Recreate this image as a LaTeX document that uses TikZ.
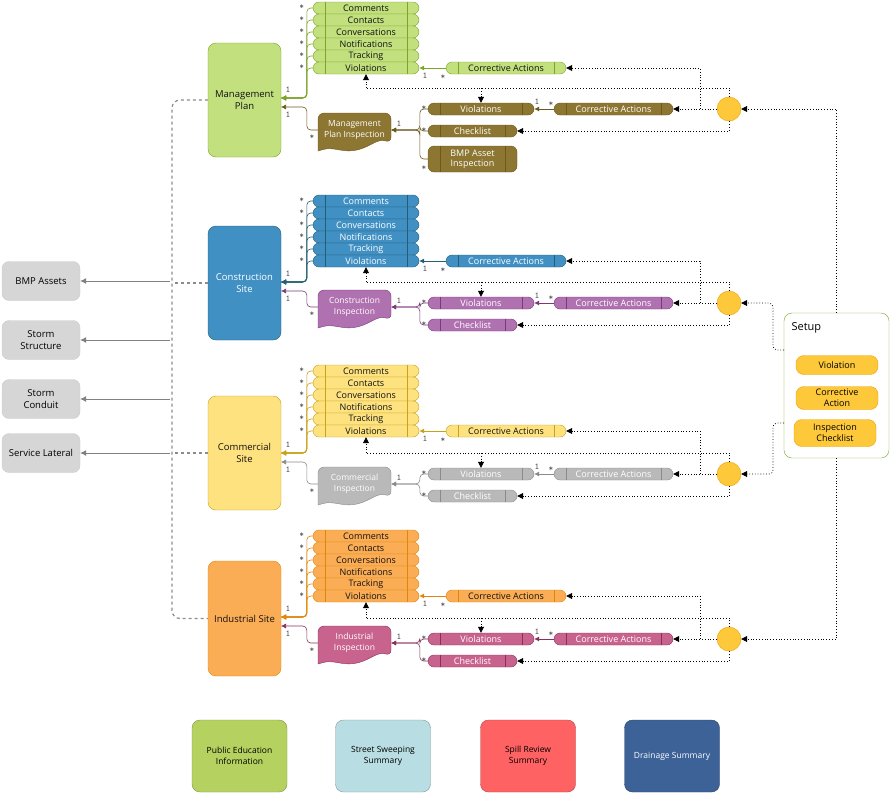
\documentclass[tikz,border=0pt]{standalone}
\usepackage{fontspec}
\setmainfont{Open Sans}
\usetikzlibrary{positioning,arrows.meta,calc}
\definecolor{mpfill}{HTML}{C2E07E}\definecolor{mpline}{HTML}{7BA428}\definecolor{mptext}{HTML}{111111}
\definecolor{mpifill}{HTML}{8C7632}\definecolor{mpiline}{HTML}{6B5A1C}\definecolor{mpitext}{HTML}{FFFFFF}
\definecolor{csfill}{HTML}{4090C4}\definecolor{csline}{HTML}{245E72}\definecolor{cstext}{HTML}{FFFFFF}
\definecolor{csifill}{HTML}{B071B0}\definecolor{csiline}{HTML}{7A3A7A}\definecolor{csitext}{HTML}{FFFFFF}
\definecolor{cmfill}{HTML}{FDE27F}\definecolor{cmline}{HTML}{C9A21A}\definecolor{cmtext}{HTML}{111111}
\definecolor{cmifill}{HTML}{B9B9B9}\definecolor{cmiline}{HTML}{8A8A8A}\definecolor{cmitext}{HTML}{FFFFFF}
\definecolor{infill}{HTML}{FBAD55}\definecolor{inline}{HTML}{E0860A}\definecolor{intext}{HTML}{111111}
\definecolor{inifill}{HTML}{C8638E}\definecolor{iniline}{HTML}{8A2F5A}\definecolor{initext}{HTML}{FFFFFF}
\definecolor{dotfill}{HTML}{FDC83A}\definecolor{dotline}{HTML}{F0A000}
\definecolor{edufill}{HTML}{B5D160}\definecolor{sweepfill}{HTML}{B8DDE2}
\definecolor{spillfill}{HTML}{FF6262}\definecolor{drainfill}{HTML}{3C6298}

\tikzset{
  pill/.style={draw=#1line, fill=#1fill, text=#1text, rounded corners=6pt, minimum height=12pt,
    inner sep=0pt, font=\fontsize{9}{10}\selectfont,
    path picture={\draw[#1line] ([xshift=12pt]path picture bounding box.north west) -- ([xshift=12pt]path picture bounding box.south west)
      ([xshift=-12pt]path picture bounding box.north east) -- ([xshift=-12pt]path picture bounding box.south east);}},
  site/.style={draw=#1line, fill=#1fill, text=#1text, rounded corners=8pt, minimum width=73pt,
    align=center, font=\fontsize{9.5}{12}\selectfont},
  link/.style={draw=#1line, semithick, rounded corners=4pt, -{Latex[length=5pt,width=5pt]}},
  mult/.style={font=\ttfamily\fontsize{9}{9}\selectfont, text=black!70, inner sep=0pt},
  dotarrow/.style={dotted, thick, -{Triangle[length=6pt,width=6pt]}},
  asset/.style={draw=black!20, fill=black!16, rounded corners=7pt, minimum width=78pt, minimum height=39pt,
    align=center, font=\fontsize{9.5}{12}\selectfont},
  setupitem/.style={draw=dotline, fill=dotfill, rounded corners=8pt, minimum width=82pt, align=center,
    inner sep=1pt, font=\fontsize{9}{11}\selectfont},
  summary/.style={draw=#1!70!black, fill=#1, rounded corners=8pt, minimum width=95pt, minimum height=72pt,
    align=center, font=\fontsize{8.5}{11}\selectfont},
}

% tag, list top, box top, box bottom, box label, inspection label, inspection y, violations y, arrow y
\newcommand{\sitepart}[9]{%
  \node[site=#1, minimum height={#4-#3}] (#1box) at (244.5,{(#3+#4)/2}) {#5};
  \coordinate (#1in1) at (281,#9);
  \coordinate (#1in2) at (281,#9+9);
  \foreach \t [count=\i] in {Comments,Contacts,Conversations,Notifications,Tracking,Violations}{
    \node[pill=#1, minimum width=106pt] (#1r\i) at (366,{#2+12*(\i-1)}) {\t};
    \draw[link=#1] (#1r\i.west) -- ++(-6,0) |- (#1in1);
    \node[mult] at ([xshift=-11pt,yshift=1pt]#1r\i.west) {*};
  }
  \node[mult] at (288,#9-8) {1};
  \node[pill=#1, minimum width=120pt] (#1ca) at (506,{#2+60}) {Corrective Actions};
  \draw[link=#1] (#1ca) -- (#1r6);
  \node[mult] at (425,#2+68) {1};
  \node[mult] at (443,#2+69) {*};
  % inspection
  \fill[#1ifill, draw=#1iline] (318,#7-18) [rounded corners=6pt] -- (391,#7-18) -- (391,#7+12)
    [sharp corners] .. controls (375,#7+6) and (365,#7+24) .. (340,#7+19) .. controls (328,#7+17) .. (318,#7+20)
    [rounded corners=6pt] -- cycle;
  \node[text=#1itext, align=center, font=\fontsize{8.5}{11}\selectfont, minimum width=73pt,
    minimum height=30pt, inner sep=0pt] (#1insp) at (354.5,#7-1) {#6};
  \draw[link=#1i] (#1insp.west) -- ++(-11,0) |- (#1in2);
  \node[mult] at (288,#9+17) {1};
  \node[mult] at (312,#7+6) {*};
  \node[pill=#1i, minimum width=106pt] (#1v) at (481,#8) {Violations};
  \node[pill=#1i, minimum width=89pt] (#1c) at (472.5,#8+22) {Checklist};
  \draw[link=#1i] (#1v.west) -- ++(-8,0) |- (#1insp.east);
  \draw[link=#1i] (#1c.west) -- ++(-8,0) |- (#1insp.east);
  \node[mult] at (399,#7-7) {1};
  \node[mult] at (424,#8-1) {*};
  \node[mult] at (424,#8+21) {*};
  \node[pill=#1i, minimum width=119pt] (#1cb) at (613.5,#8) {Corrective Actions};
  \draw[link=#1i] (#1cb) -- (#1v);
  \node[mult] at (537,#8-7) {1};
  \node[mult] at (551,#8-5) {*};
  % checks
  \node[circle, draw=dotline, fill=dotfill, minimum size=24pt] (#1dot) at (729,#8) {};
  \coordinate (#1top) at (366,#8-21);
  \coordinate (#1mid) at (481,#8-21);
  \coordinate (#1join) at (700,#8);
  \draw[dotarrow] (#1dot.west) -- (#1cb.east);
  \draw[dotarrow] (#1dot.south) |- (#1c.east);
  \draw[dotted, thick] (#1dot.north) |- (#1top);
  \draw[dotarrow] (#1top) -- (#1r6.south);
  \draw[dotarrow] (#1mid) -- (#1v.north);
  \draw[dotarrow] (#1join) |- (#1ca.east);
}

\begin{document}
\begin{tikzpicture}[x=1pt, y=-1pt]
  \useasboundingbox (0,0) rectangle (892,796);

  \sitepart{mp}{8}{43}{157}{Management\\Plan}{Management\\Plan Inspection}{131}{109}{98}
  \sitepart{cs}{201}{226}{340}{Construction\\Site}{Construction\\Inspection}{308}{303}{282}
  \sitepart{cm}{371}{396}{510}{Commercial\\Site}{Commercial\\Inspection}{485}{474}{453}
  \sitepart{in}{536}{561}{676}{Industrial Site}{Industrial\\Inspection}{644}{639}{617}

  \node[pill=mpi, minimum width=89pt, minimum height=26pt, align=center] (mpbmp) at (472.5,159)
    {BMP Asset\\Inspection};
  \draw[link=mpi] (mpbmp.west) -- ++(-8,0) |- (mpinsp.east);
  \node[mult] at (424,168) {*};

  % assets
  \node[asset] (bmp) at (41,281) {BMP Assets};
  \node[asset] (struct) at (41,340) {Storm\\Structure};
  \node[asset] (conduit) at (41,399) {Storm\\Conduit};
  \node[asset] (lateral) at (41,453) {Service Lateral};
  \draw[dashed, very thick, black!45, rounded corners=8pt] (mpbox.west) -- (172,100) |- (inbox.west);
  \draw[dashed, very thick, black!45] (csbox.west) -- (172,283);
  \draw[dashed, very thick, black!45] (cmbox.west) -- (172,453);
  \foreach \a/\y in {bmp/281,struct/340,conduit/399,lateral/453}{
    \coordinate (t\a) at (170,\y);
    \draw[thick, black!50, -{Latex[length=6pt,width=6pt]}] (t\a) -- (\a.east);
  }

  % setup
  \node[draw=mpline, fill=white, rounded corners=8pt, minimum width=105pt, minimum height=145pt] (setup) at (836.5,385.5) {};
  \node[font=\fontsize{11}{13}\selectfont, anchor=west] (setuptitle) at (788,328) {Setup};
  \node[setupitem, minimum height=19pt] (sviol) at (837,365) {Violation};
  \node[setupitem, minimum height=23pt] (sca) at (837,398) {Corrective\\Action};
  \node[setupitem, minimum height=27pt] (schk) at (835,433) {Inspection\\Checklist};
  \coordinate (sw1) at (784,350);
  \coordinate (sw2) at (784,423);
  \draw[dotarrow] (setup.north) |- (mpdot.east);
  \draw[dotarrow, rounded corners=4pt] (sw1) -- (773,350) |- (csdot.east);
  \draw[dotarrow, rounded corners=4pt] (sw2) -- (773,423) |- (cmdot.east);
  \draw[dotarrow] (setup.south) |- (indot.east);

  % summaries
  \node[summary=edufill] (edu) at (239.5,756) {Public Education\\Information};
  \node[summary=sweepfill] (sweep) at (383,756) {Street Sweeping\\Summary};
  \node[summary=spillfill] (spill) at (528,756) {Spill Review\\Summary};
  \node[summary=drainfill, text=white] (drain) at (672,756) {Drainage Summary};
\end{tikzpicture}
\end{document}
